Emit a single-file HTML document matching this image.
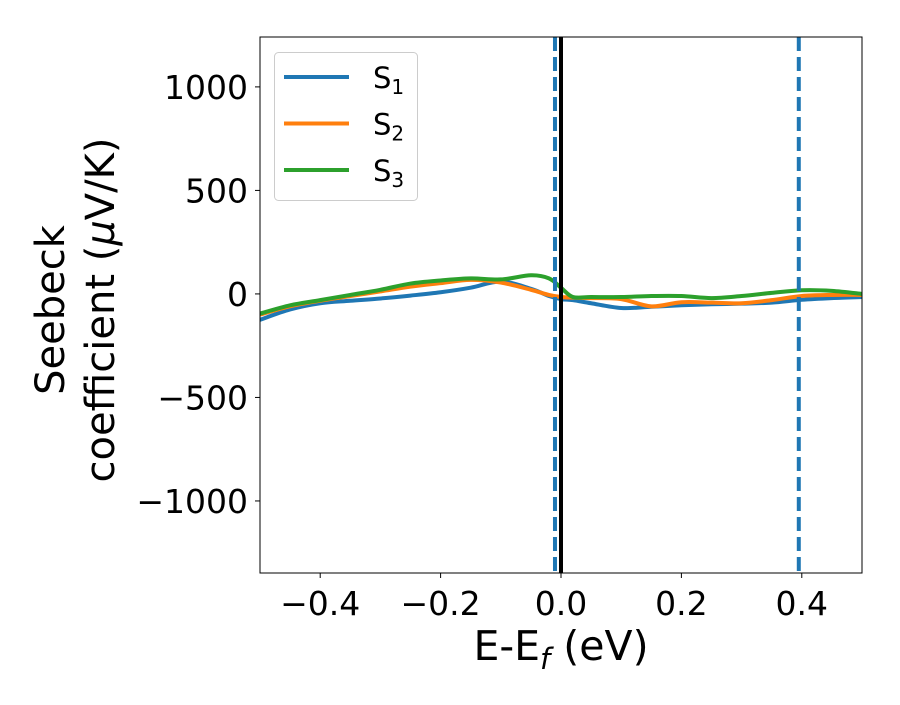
<!DOCTYPE html>
<html><head><meta charset="utf-8"><style>
body{margin:0;background:#fff}
svg text{font-family:"DejaVu Sans","Liberation Sans",sans-serif;fill:#000}
</style></head><body>
<svg id="chart" width="900" height="700" xmlns="http://www.w3.org/2000/svg">
<g id="plot"></g>
</svg>
<script>
const xs = [-0.5,-0.45,-0.4,-0.35,-0.3,-0.25,-0.2,-0.15,-0.1,-0.05,-0.02,0,0.02,0.05,0.1,0.15,0.2,0.25,0.3,0.35,0.4,0.45,0.5];
const s1 = [-125,-75,-45,-33,-22,-8,8,30,60,25,-10,-25,-30,-45,-68,-62,-55,-50,-47,-42,-28,-20,-15];
const s2 = [-100,-60,-33,-10,12,35,52,68,55,20,-5,-15,-18,-20,-25,-60,-40,-42,-45,-30,-10,-5,-5];
const s3 = [-95,-55,-30,-5,20,50,65,75,70,90,75,30,-15,-15,-15,-10,-10,-20,-10,5,18,15,0];
const xTicks = [-0.4,-0.2,0.0,0.2,0.4];
const xTickLabels = ["\u22120.4","\u22120.2","0.0","0.2","0.4"];
const yTicks = [1000,500,0,-500,-1000];
const yTickLabels = ["1000","500","0","\u2212500","\u22121000"];
const vDashed = [-0.01,0.395];
const L=260,R=862,T=37,B=573,X0=-0.5,X1=0.5,Y0=-1348,Y1=1241;
const sx=v=>L+(v-X0)/(X1-X0)*(R-L);
const sy=v=>B-(v-Y0)/(Y1-Y0)*(B-T);
const g=document.getElementById('plot');
const NS='http://www.w3.org/2000/svg';
function mk(tag,attrs,parent){const e=document.createElementNS(NS,tag);for(const k in attrs)e.setAttribute(k,attrs[k]);(parent||g).appendChild(e);return e;}
function smooth(pts){let d=`M${pts[0][0]},${pts[0][1]}`;for(let i=0;i<pts.length-1;i++){const p0=pts[Math.max(0,i-1)],p1=pts[i],p2=pts[i+1],p3=pts[Math.min(pts.length-1,i+2)];const c1=[p1[0]+(p2[0]-p0[0])/6,p1[1]+(p2[1]-p0[1])/6],c2=[p2[0]-(p3[0]-p1[0])/6,p2[1]-(p3[1]-p1[1])/6];d+=`C${c1[0]},${c1[1]} ${c2[0]},${c2[1]} ${p2[0]},${p2[1]}`;}return d;}
const cp=mk('clipPath',{id:'clip'});
mk('rect',{x:L,y:T,width:R-L,height:B-T},cp);
const series=[[s1,'#1f77b4','series-s1'],[s2,'#ff7f0e','series-s2'],[s3,'#2ca02c','series-s3']];
series.forEach(([vals,col,name])=>{
  const p=mk('path',{d:smooth(xs.map((x,i)=>[sx(x),sy(vals[i])])),fill:'none',stroke:col,'stroke-width':4,'clip-path':'url(#clip)'});
  
  
});
vDashed.forEach((v,i)=>{const l=mk('line',{x1:sx(v),x2:sx(v),y1:T,y2:B,stroke:'#1f77b4','stroke-width':4,'stroke-dasharray':'14,6'});
  
  });
const z=mk('line',{x1:sx(0),x2:sx(0),y1:T,y2:B,stroke:'#000','stroke-width':4});


const fr=mk('rect',{x:L,y:T,width:R-L,height:B-T,fill:'none',stroke:'#000','stroke-width':1});


xTicks.forEach((v,i)=>{mk('line',{x1:sx(v),x2:sx(v),y1:B,y2:B+5,stroke:'#000'});
  const t=mk('text',{x:sx(v),y:B+42,'text-anchor':'middle','font-size':33});t.textContent=xTickLabels[i];
  
  });
yTicks.forEach((v,i)=>{mk('line',{x1:L-5,x2:L,y1:sy(v),y2:sy(v),stroke:'#000'});
  const t=mk('text',{x:L-12,y:sy(v)+12,'text-anchor':'end','font-size':33});t.textContent=yTickLabels[i];
  
  });
const xl=mk('text',{x:561,y:660,'text-anchor':'middle','font-size':41});
xl.innerHTML='E-E<tspan font-style="italic" font-size="29" dy="9">f</tspan><tspan dy="-9"> (eV)</tspan>';


const yl=mk('text',{transform:'translate(64,310) rotate(-90)','text-anchor':'middle','font-size':40});
yl.innerHTML='<tspan x="0" dy="0">Seebeck</tspan><tspan x="0" dy="50">coefficient  (<tspan font-style="italic">μ</tspan>V/K)</tspan>';


const lg=mk('g',{});


mk('rect',{x:274.5,y:52.5,width:143,height:148,rx:4,fill:'#fff','fill-opacity':0.8,stroke:'#ccc'},lg);
series.forEach(([v,col,name],i)=>{const y=77+i*46.5;
  mk('line',{x1:284,x2:349,y1:y,y2:y,stroke:col,'stroke-width':4},lg);
  const t=mk('text',{x:373,y:y+11,'font-size':29},lg);
  t.innerHTML='S<tspan font-size="20" dy="6">'+(i+1)+'</tspan>';
  
  });
</script>
</body></html>
